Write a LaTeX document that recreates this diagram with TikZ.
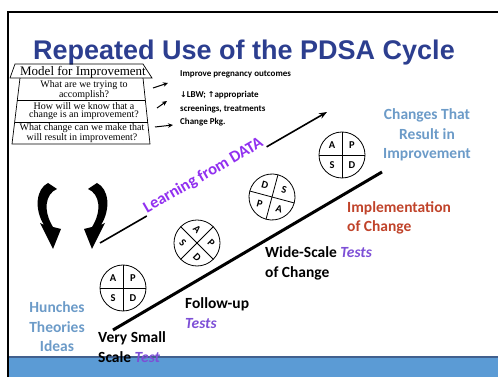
\documentclass[tikz,border=0pt]{standalone}
\usepackage{fontspec}
\setmainfont{Carlito}
\newfontfamily\titlefont{Liberation Sans}
\newfontfamily\modelfont{Liberation Serif}
\newfontfamily\arrowfont{DejaVu Sans}
\usepackage{tikz}
\usetikzlibrary{arrows.meta, calc}
\definecolor{titleblue}{HTML}{2C3E8F}
\definecolor{ideablue}{HTML}{6C9BC8}
\definecolor{dataviolet}{HTML}{9130F0}
\definecolor{testviolet}{HTML}{7D4FD6}
\definecolor{implred}{HTML}{C0432A}
\definecolor{bandblue}{HTML}{5B9BD5}
\definecolor{bandline}{HTML}{41608E}

\begin{document}
\begin{tikzpicture}[x=1pt, y=1pt,
  phrase/.style={font=\fontsize{15.5}{19.5}\selectfont\bfseries, align=left, anchor=west, inner sep=0pt},
  question/.style={font=\modelfont\fontsize{10}{7.5}\selectfont, align=center, inner sep=0pt},
  aim/.style={font=\fontsize{9}{14}\selectfont\bfseries, align=left, anchor=west, inner sep=0pt},
  letter/.style={font=\fontsize{10.5}{10.5}\selectfont\bfseries, inner sep=0pt, transform shape},
  smallarrow/.style={-{Stealth[length=5pt, width=4.5pt]}, line width=1pt},
  pics/pdsa/.style n args={4}{code={
    \draw[line width=0.8pt] (0,0) circle (23pt);
    \draw[line width=0.8pt] (-23,0) -- (23,0) (0,-23) -- (0,23);
    \node[letter] (-tl) at (-10,10) {#1};
    \node[letter] (-tr) at (10,10) {#2};
    \node[letter] (-bl) at (-10,-10) {#3};
    \node[letter] (-br) at (10,-10) {#4};
  }},
]
  \useasboundingbox (0,0) rectangle (498,377);

  % frame and bottom band
  \fill[bandblue] (9,0) rectangle (498,20);
  \draw[bandline, line width=2pt] (9,20) -- (498,20);
  \draw[line width=2pt] (8,0) -- (8,365) -- (498,365);

  \node[font=\titlefont\fontsize{27}{27}\selectfont\bfseries, text=titleblue, anchor=base]
    (title) at (244,317) {Repeated Use of the PDSA Cycle};

  % model for improvement box
  \draw[line width=0.7pt] (15,313) -- (143,313) -- (152,299) -- (10,299) -- cycle;
  \draw[line width=0.7pt] (20,299) -- (12,233) -- (150,233) -- (143,299);
  \draw[line width=0.7pt] (17.3,277) -- (145.3,277) (14.7,255) -- (147.7,255);
  \node[font=\modelfont\fontsize{13}{13}\selectfont, inner sep=0pt] (model) at (83,305) {Model for Improvement};
  \node[question] (q1) at (84,287) {What are we trying to\\accomplish?};
  \node[question] (q2) at (84,266) {How will we know that a\\change is an improvement?};
  \node[question] (q3) at (82,244) {What change can we make that\\will result in improvement?};

  \node[aim] (aim1) at (180,303) {Improve pregnancy outcomes};
  \node[aim] (aim2) at (180,275) {{\arrowfont\fontsize{8}{8}\selectfont↓}LBW; {\arrowfont\fontsize{8}{8}\selectfont↑}appropriate\\screenings, treatments};
  \node[aim] (aim3) at (180,255) {Change Pkg.};

  \coordinate (s1) at (153,289); \coordinate (e1) at (168,294);
  \coordinate (s2) at (157,269); \coordinate (e2) at (167,276);
  \coordinate (s3) at (155,250); \coordinate (e3) at (173,252);
  \draw[smallarrow] (s1) -- (e1);
  \draw[smallarrow] (s2) -- (e2);
  \draw[smallarrow] (s3) -- (e3);

  % cycle arrows
  \fill (48,194) .. controls (36,188) and (34,168) .. (44,152) -- (40,154) -- (53,128)
    -- (61,148) -- (53,150) .. controls (43,166) and (45,183) .. (57,188) -- cycle;
  \fill (97,194) .. controls (109,188) and (111,168) .. (101,152) -- (105,154) -- (92,128)
    -- (84,148) -- (92,150) .. controls (102,166) and (100,183) .. (88,188) -- cycle;

  \coordinate (learnstart) at (100,134);
  \coordinate (learnend) at (327,265);
  \draw[-{Stealth[length=8pt, width=6pt]}, line width=1.6pt] (learnstart) -- (learnend)
    node[pos=0.47, sloped, above=-3pt, fill=white, inner sep=1.5pt,
      font=\fontsize{16.5}{16.5}\selectfont\bfseries, text=dataviolet] (learn) {Learning from DATA};

  % ramp of tests
  \coordinate (rampstart) at (113,47);
  \coordinate (rampend) at (382,205);
  \draw[line width=3pt] (rampstart) -- (rampend);

  \pic (c1) at (123,89) {pdsa={A}{P}{S}{D}};
  \pic[rotate=-45] (c2) at (197,134) {pdsa={A}{P}{S}{D}};
  \pic[rotate=-15] (c3) at (272,180) {pdsa={D}{S}{P}{A}};
  \pic (c4) at (342,222) {pdsa={A}{P}{S}{D}};

  \node[phrase, anchor=center, align=center, text=ideablue] (goal) at (427,242)
    {Changes That\\Result in\\Improvement};
  \node[phrase, text=implred] (impl) at (347,159) {Implementation\\of Change};
  \node[phrase] (wide) at (265,113.5) {Wide-Scale \textcolor{testviolet}{\itshape Tests}\\of Change};
  \node[phrase] (follow) at (185,64) {Follow-up\\\textcolor{testviolet}{\itshape Tests}};
  \node[phrase] (small) at (98,30) {Very Small\\Scale \textcolor{testviolet}{\itshape Test}};
  \node[phrase, anchor=center, align=center, text=ideablue] (ideas) at (57,50)
    {Hunches\\Theories\\Ideas};
\end{tikzpicture}
\end{document}
